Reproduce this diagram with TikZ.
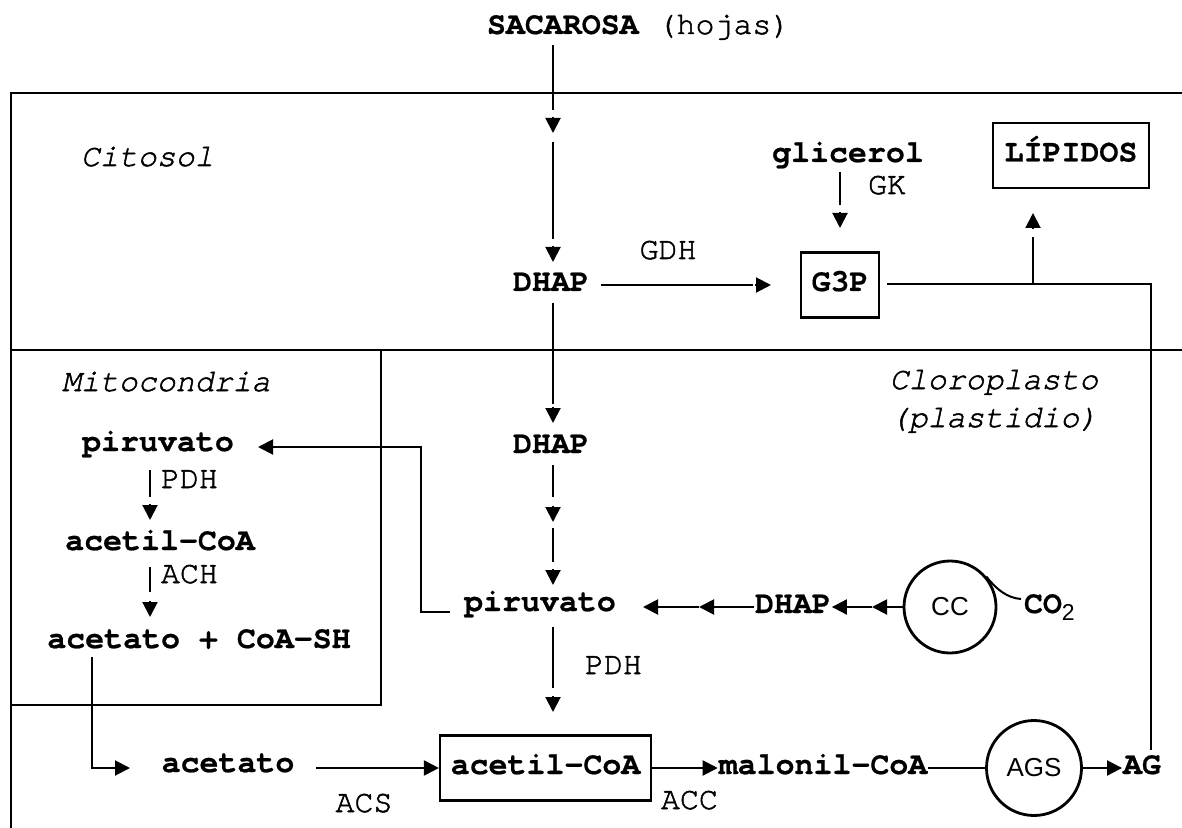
\documentclass[tikz,border=0pt]{standalone}
\usepackage{fontspec}
\setmonofont{TeX Gyre Cursor}[BoldFeatures={FakeBold=0.6}]
\newfontfamily\regtt{TeX Gyre Cursor}[FakeBold=1.6]
\setsansfont{Liberation Sans}
\usetikzlibrary{arrows.meta,calc}
\newcommand{\garr}[3][11.5pt]{%
  \draw (#2) -- ($(#3)!#1!(#2)$);
  \draw[ahead] ($(#3)!7.9pt!(#2)$) -- (#3);}
\begin{document}
\begin{tikzpicture}[x=0.5pt,y=-0.5pt, line width=1pt,
  met/.style={font=\ttfamily\bfseries\fontsize{15.8}{18}\selectfont, inner sep=0pt, text height=0.6em, text depth=0pt},
  enz/.style={font=\regtt\mdseries\fontsize{15.8}{18}\selectfont, inner sep=0pt, text height=0.6em, text depth=0pt},
  comp/.style={font=\regtt\mdseries\itshape\fontsize{15.8}{19}\selectfont, inner sep=0pt},
  bx/.style={met, draw, line width=1.1pt, minimum height=32.5pt},
  circ/.style={circle, draw, line width=1.4pt, minimum size=46pt, inner sep=0pt, font=\sffamily\fontsize{13}{15}\selectfont},
  ahead/.style={-{Triangle[length=7.5pt,width=7.5pt]}},
  frame/.style={line width=1.1pt}]
\useasboundingbox (0,0) rectangle (1182,828);

% compartments
\draw[frame] (1182,93) -- (11,93) -- (11,828);
\draw[frame] (11,350) -- (1182,350);
\draw[frame] (381,350) -- (381,705) -- (11,705);

\node[comp, anchor=base west] (cit) at (80,166) {Citosol};
\node[comp, anchor=base west] (mit) at (61,391) {Mitocondria};
\node[comp, anchor=base, align=center] (clo) at (994,427) {Cloroplasto\\(plastidio)};

% nodes
\node[met, anchor=west] (sac) at (486,28) {SACAROSA {\regtt\mdseries(hojas)}};
\node[met] (dh1) at (551,285) {DHAP};
\node[enz] (gdh) at (668,253) {GDH};
\node[bx, minimum width=39pt] (g3p) at (840,285) {G3P};
\node[met] (glic) at (848,156) {glicerol};
\node[enz] (gk) at (887,188) {GK};
\node[bx, minimum width=78pt] (lip) at (1071,155.5) {LÍPIDOS};
\node[met] (dh2) at (551,447) {DHAP};
\node[met] (piru2) at (540,605) {piruvato};
\node[enz, anchor=west] (pdh2) at (584,668) {PDH};
\node[met] (dh3) at (793,607) {DHAP};
\node[circ] (cc) at (950,607) {CC};
\node[met, anchor=west] (co2) at (1023,607) {CO\raisebox{-3.5pt}{\sffamily\mdseries\fontsize{11.5}{12}\selectfont 2}};
\node[met] (mpiru) at (158,445) {piruvato};
\node[enz, anchor=west] (pdh1) at (160,482) {PDH};
\node[met] (macoa) at (160,544) {acetil-CoA};
\node[enz, anchor=west] (ach) at (160,577) {ACH};
\node[met] (macsh) at (199,642) {acetato + CoA-SH};
\node[met] (acet) at (228,766) {acetato};
\node[enz] (acs) at (364,806) {ACS};
\node[bx, minimum width=105.5pt] (acoa) at (545.5,768) {acetil-CoA};
\node[enz, anchor=west] (acc) at (660,803) {ACC};
\node[met] (mal) at (823,768) {malonil-CoA};
\node[circ, minimum size=47.5pt] (ags) at (1034,768) {AGS};
\node[met] (ag) at (1142,768) {AG};

% coordinates
\coordinate (s1) at (553,45);
\coordinate (s2) at (553,133);
\coordinate (s3) at (553,142);
\coordinate (s4) at (553,262);
\coordinate (d1) at (553,303);
\coordinate (d2) at (553,423);
\coordinate (d3) at (553,465);
\coordinate (d4) at (553,522);
\coordinate (d5) at (553,528);
\coordinate (d6) at (553,585);
\coordinate (p1) at (553,627);
\coordinate (p2) at (553,712);
\coordinate (m1) at (150,470);
\coordinate (m2) at (150,520);
\coordinate (m3) at (150,567);
\coordinate (m4) at (150,617);
\coordinate (g1) at (840,172);
\coordinate (g2) at (840,228);
\coordinate (l1) at (1033,284);
\coordinate (l2) at (1033,213);
\coordinate (h1) at (601,285);
\coordinate (h2) at (771,285);
\coordinate (q0) at (450,612);
\coordinate (q1) at (421,612);
\coordinate (t1) at (258,447);
\coordinate (k1) at (643,607);
\coordinate (k2) at (699,607);
\coordinate (k3) at (872,607);
\coordinate (a0) at (92,657);
\coordinate (a2) at (130,768);
\coordinate (b0) at (316,768);
\coordinate (r0) at (1151,750);
\coordinate (r1) at (1151,284);
\coordinate (r2) at (887,284);
\coordinate (e1) at (1021,599);

% connectors
\garr{s1}{s2}
\garr{s3}{s4}
\garr[9.5pt]{d1}{d2}
\garr[12.5pt]{d3}{d4}
\garr[11.5pt]{d5}{d6}
\garr[12pt]{p1}{p2}
\garr[11.5pt]{m1}{m2}
\garr[12.5pt]{m3}{m4}
\garr[11.5pt]{g1}{g2}
\garr[12pt]{l1}{l2}
\garr[9pt]{h1}{h2}
\draw[ahead] (q0) -- (q1) |- (t1);
\draw[ahead] (k2) -- (k1);
\draw[ahead] (dh3.west) -- (k2);
\draw[ahead] (k3) -- (dh3.east);
\draw[ahead] (cc.west) -- (k3);
\draw (cc.40) .. controls (996,589) and (1007,598) .. (e1);
\draw[ahead] (a0) |- (a2);
\draw[ahead] (b0) -- (acoa.west);
\draw[ahead] (acoa.east) -- (mal.west);
\draw (mal.east) -- (ags.west);
\draw[ahead] (ags.east) -- (ag.west);
\draw (r0) -- (r1) -- (r2);
\end{tikzpicture}
\end{document}
